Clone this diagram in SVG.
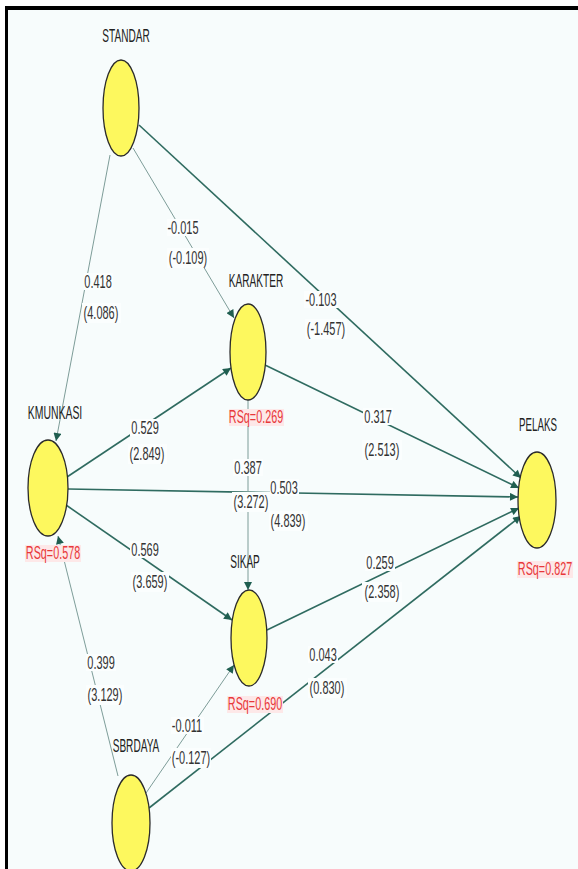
<svg xmlns="http://www.w3.org/2000/svg" width="578" height="869" viewBox="0 0 578 869">
<defs>
<marker id="ah" viewBox="0 0 10 10" refX="10" refY="5" markerWidth="9" markerHeight="8" markerUnits="userSpaceOnUse" orient="auto">
<path d="M0,0 L10,5 L0,10 z" fill="#1f5e50"/>
</marker>
</defs>
<style>
.bg{fill:#f7fcfc}
.node ellipse{fill:#fdf85e;stroke:#2b2b2b;stroke-width:1.3}
.nm{font-family:"Liberation Sans",Arial,sans-serif;font-size:18px;fill:#222;text-anchor:middle}
.rsq{font-family:"Liberation Sans",Arial,sans-serif;font-size:18px;fill:#e8383a;text-anchor:middle}
.rsqbg{fill:#fde8e8}
.lb{font-family:"Liberation Sans",Arial,sans-serif;font-size:18px;fill:#333;text-anchor:middle}
.lbbg{fill:#fbfefe}
.dk{stroke:#2f6b60;stroke-width:1.6;fill:none}
.lt{stroke:#7d9c98;stroke-width:1;fill:none}
</style>
<rect x="0" y="0" width="578" height="869" fill="#ffffff"/>
<rect class="bg" x="7" y="9" width="571" height="860"/>
<rect x="5" y="6" width="573" height="4" fill="#000"/>
<rect x="5" y="6" width="3" height="863" fill="#000"/>

<g id="connectors">
<line class="lt" x1="110" y1="155" x2="56" y2="441" marker-end="url(#ah)"/>
<line class="lt" x1="133" y1="148" x2="234" y2="318" marker-end="url(#ah)"/>
<line class="dk" x1="139" y1="125" x2="521" y2="478" marker-end="url(#ah)"/>
<line class="dk" x1="67" y1="477" x2="231" y2="368" marker-end="url(#ah)"/>
<line class="dk" x1="265" y1="365" x2="519" y2="488" marker-end="url(#ah)"/>
<line class="dk" x1="68" y1="489" x2="518" y2="497" marker-end="url(#ah)"/>
<line class="lt" x1="248" y1="400" x2="248" y2="590" marker-end="url(#ah)"/>
<line class="dk" x1="66" y1="505" x2="232" y2="620" marker-end="url(#ah)"/>
<line class="dk" x1="267" y1="630" x2="519" y2="508" marker-end="url(#ah)"/>
<line class="lt" x1="146" y1="793" x2="234" y2="665" marker-end="url(#ah)"/>
<line class="dk" x1="149" y1="808" x2="521" y2="516" marker-end="url(#ah)"/>
<line class="lt" x1="118" y1="776" x2="58" y2="536" marker-end="url(#ah)"/>
</g>

<g id="edge-labels">
<rect class="lbbg" x="84" y="273" width="29" height="17"/><text class="lb" transform="translate(98,288) scale(0.61,1)">0.418</text>
<rect class="lbbg" x="82" y="303" width="39" height="20"/><text class="lb" transform="translate(101,319) scale(0.61,1)">(4.086)</text>

<rect class="lbbg" x="167" y="219" width="32" height="17"/><text class="lb" transform="translate(183,234) scale(0.61,1)">-0.015</text>
<rect class="lbbg" x="167" y="248" width="42" height="20"/><text class="lb" transform="translate(188,264) scale(0.61,1)">(-0.109)</text>

<rect class="lbbg" x="304" y="291" width="34" height="17"/><text class="lb" transform="translate(321,306) scale(0.61,1)">-0.103</text>
<rect class="lbbg" x="305" y="319" width="42" height="20"/><text class="lb" transform="translate(326,335) scale(0.61,1)">(-1.457)</text>

<rect class="lbbg" x="130" y="419" width="30" height="17"/><text class="lb" transform="translate(145,434) scale(0.61,1)">0.529</text>
<rect class="lbbg" x="128" y="444" width="39" height="20"/><text class="lb" transform="translate(147,460) scale(0.61,1)">(2.849)</text>

<rect class="lbbg" x="363" y="408" width="30" height="17"/><text class="lb" transform="translate(378,423) scale(0.61,1)">0.317</text>
<rect class="lbbg" x="362" y="440" width="40" height="20"/><text class="lb" transform="translate(382,456) scale(0.61,1)">(2.513)</text>

<rect class="lbbg" x="233" y="459" width="30" height="17"/><text class="lb" transform="translate(248,474) scale(0.61,1)">0.387</text>
<rect class="lbbg" x="232" y="492" width="38" height="20"/><text class="lb" transform="translate(251,508) scale(0.61,1)">(3.272)</text>

<rect class="lbbg" x="270" y="479" width="29" height="17"/><text class="lb" transform="translate(284,494) scale(0.61,1)">0.503</text>
<rect class="lbbg" x="269" y="511" width="39" height="20"/><text class="lb" transform="translate(288,527) scale(0.61,1)">(4.839)</text>

<rect class="lbbg" x="130" y="541" width="30" height="17"/><text class="lb" transform="translate(145,556) scale(0.61,1)">0.569</text>
<rect class="lbbg" x="131" y="572" width="38" height="20"/><text class="lb" transform="translate(150,588) scale(0.61,1)">(3.659)</text>

<rect class="lbbg" x="365" y="554" width="30" height="17"/><text class="lb" transform="translate(380,569) scale(0.61,1)">0.259</text>
<rect class="lbbg" x="362" y="582" width="40" height="20"/><text class="lb" transform="translate(382,598) scale(0.61,1)">(2.358)</text>

<rect class="lbbg" x="171" y="717" width="33" height="17"/><text class="lb" transform="translate(187,732) scale(0.61,1)">-0.011</text>
<rect class="lbbg" x="171" y="748" width="40" height="20"/><text class="lb" transform="translate(191,764) scale(0.61,1)">(-0.127)</text>

<rect class="lbbg" x="308" y="646" width="30" height="17"/><text class="lb" transform="translate(323,661) scale(0.61,1)">0.043</text>
<rect class="lbbg" x="308" y="678" width="39" height="20"/><text class="lb" transform="translate(327,694) scale(0.61,1)">(0.830)</text>

<rect class="lbbg" x="86" y="654" width="30" height="17"/><text class="lb" transform="translate(101,669) scale(0.61,1)">0.399</text>
<rect class="lbbg" x="86" y="685" width="38" height="20"/><text class="lb" transform="translate(105,701) scale(0.61,1)">(3.129)</text>
</g>

<g id="STANDAR" class="node">
<ellipse cx="121" cy="108" rx="18" ry="48"/>
<text class="nm" transform="translate(126,42) scale(0.56,1)">STANDAR</text>
</g>
<g id="KARAKTER" class="node">
<ellipse cx="248" cy="352" rx="18" ry="48"/>
<text class="nm" transform="translate(256,287) scale(0.56,1)">KARAKTER</text>
<rect class="rsqbg" x="229" y="409" width="55" height="17"/>
<text class="rsq" transform="translate(256,423) scale(0.6,1)">RSq=0.269</text>
</g>
<g id="KMUNKASI" class="node">
<ellipse cx="48" cy="488" rx="20" ry="48"/>
<text class="nm" transform="translate(55,419) scale(0.58,1)">KMUNKASI</text>
<rect class="rsqbg" x="25" y="545" width="56" height="17"/>
<text class="rsq" transform="translate(53,559) scale(0.6,1)">RSq=0.578</text>
</g>
<g id="PELAKS" class="node">
<ellipse cx="537" cy="500" rx="19" ry="48"/>
<text class="nm" transform="translate(538,431) scale(0.54,1)">PELAKS</text>
<rect class="rsqbg" x="517" y="561" width="56" height="17"/>
<text class="rsq" transform="translate(545,575) scale(0.6,1)">RSq=0.827</text>
</g>
<g id="SIKAP" class="node">
<ellipse cx="249" cy="638" rx="18" ry="48"/>
<text class="nm" transform="translate(245,568) scale(0.56,1)">SIKAP</text>
<rect class="rsqbg" x="227" y="696" width="56" height="17"/>
<text class="rsq" transform="translate(255,710) scale(0.6,1)">RSq=0.690</text>
</g>
<g id="SBRDAYA" class="node">
<ellipse cx="131" cy="823" rx="19" ry="48"/>
<text class="nm" transform="translate(136,752) scale(0.56,1)">SBRDAYA</text>
</g>
</svg>
